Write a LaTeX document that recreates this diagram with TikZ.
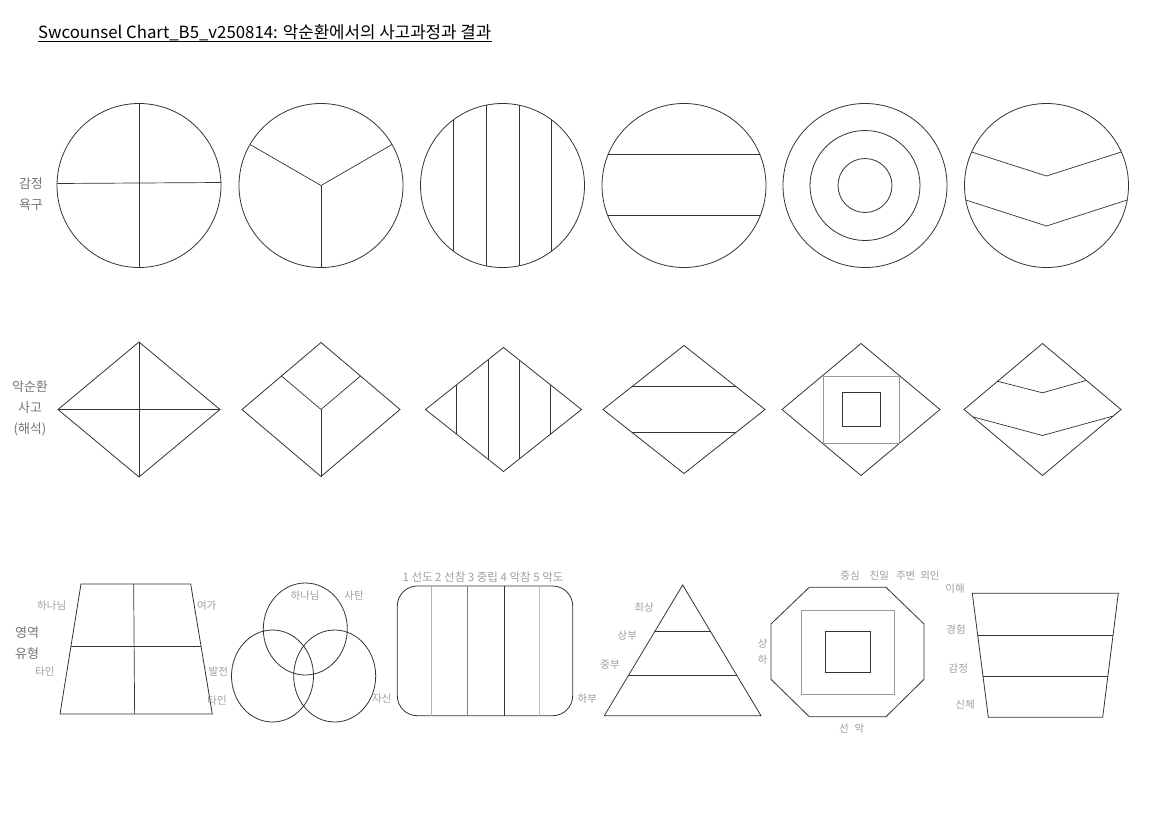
\documentclass[tikz,border=0pt]{standalone}
\usepackage{fontspec}
\setmainfont{Noto Sans CJK KR}
\usetikzlibrary{positioning, calc}
\tikzset{
  outline/.style={draw=black!80, line width=0.8pt},
  divider/.style={draw=black!80, line width=0.7pt},
  softline/.style={draw=black!40, line width=0.8pt},
  sidelabel/.style={font=\fontsize{13}{21}\selectfont, text=black!55, align=center, inner sep=0pt},
  taglabel/.style={font=\fontsize{10.5}{12}\selectfont, text=black!38, inner sep=0pt},
  titlelabel/.style={font=\fontsize{16.8}{18}\selectfont, inner sep=0pt}
}

\begin{document}
\begin{tikzpicture}[x=1pt, y=-1pt]
    \useasboundingbox (0,0) rectangle (1152,814);
    \node[titlelabel, anchor=base west] (title) at (38,38) {Swcounsel Chart\_B5\_v250814: 악순환에서의 사고과정과 결과};
    \draw[line width=0.7pt] ($(title.base west)+(0,3)$) -- ($(title.base east)+(0,3)$);

    \node[sidelabel] (emo) at (31,194) {감정\\욕구};
    \node[sidelabel] (think) at (30,408) {악순환\\사고\\(해석)};
    \node[sidelabel] (area) at (27,643) {영역\\유형};

    \foreach \n/\x in {1/139,2/321,3/502.5,4/684,5/865,6/1046.5} {
      \coordinate (c\n) at (\x,185.5);
      \draw[outline] (c\n) circle (82pt);
    }
    \draw[divider] ($(c1)+(0,-82)$) -- ($(c1)+(0,82)$);
    \draw[divider] ($(c1)+(-82,-2)$) -- ($(c1)+(82,-3)$);
    \draw[divider] ($(c2)+(-71,-41)$) -- (c2) -- ($(c2)+(71,-41)$);
    \draw[divider] (c2) -- ($(c2)+(0,82)$);
    \foreach \dx/\dy in {-49.2/65.6,-16.4/80.3,16.4/80.3,49.2/65.6}
      \draw[divider] ($(c3)+(\dx,-\dy)$) -- ($(c3)+(\dx,\dy)$);
    \draw[divider] ($(c4)+(-75.9,-31)$) -- ($(c4)+(75.9,-31)$);
    \draw[divider] ($(c4)+(-76.3,30)$) -- ($(c4)+(76.3,30)$);
    \draw[outline] (c5) circle (55pt) (c5) circle (27pt);
    \draw[divider] ($(c6)+(-74.8,-33.5)$) -- ($(c6)+(0,-9.5)$) -- ($(c6)+(74.8,-33.5)$);
    \draw[divider] ($(c6)+(-80.7,14.5)$) -- ($(c6)+(0,40.5)$) -- ($(c6)+(80.7,14.5)$);

    \foreach \n/\x/\hw/\hh in {1/139/81/67.5,2/321/79/67,3/503.5/78/62,4/684/81/64,5/861/79/66,6/1042.5/78.5/66} {
      \coordinate (d\n) at (\x,409.5);
      \draw[outline] ($(d\n)+(0,-\hh)$) -- ($(d\n)+(\hw,0)$) -- ($(d\n)+(0,\hh)$) -- ($(d\n)+(-\hw,0)$) -- cycle;
    }
    \draw[divider] ($(d1)+(0,-67.5)$) -- ($(d1)+(0,67.5)$);
    \draw[divider] ($(d1)+(-81,0)$) -- ($(d1)+(81,0)$);
    \draw[divider] ($(d2)+(-39.5,-33.5)$) -- (d2) -- ($(d2)+(39.5,-33.5)$);
    \draw[divider] (d2) -- ($(d2)+(0,67)$);
    \foreach \dx/\dy in {-46.8/24.8,-15.6/49.6,15.6/49.6,46.8/24.8}
      \draw[divider] ($(d3)+(\dx,-\dy)$) -- ($(d3)+(\dx,\dy)$);
    \draw[divider] ($(d4)+(-52,-23)$) -- ($(d4)+(52,-23)$);
    \draw[divider] ($(d4)+(-52,23)$) -- ($(d4)+(52,23)$);
    \draw[softline] ($(d5)+(-38,-33.5)$) rectangle ($(d5)+(38,33.5)$);
    \draw[outline] ($(d5)+(-19,-17.5)$) rectangle ($(d5)+(19,16.5)$);
    \draw[divider] ($(d6)+(-45.2,-28.3)$) -- ($(d6)+(0,-16.7)$) -- ($(d6)+(43.5,-29)$);
    \draw[divider] ($(d6)+(-69.8,7.3)$) -- ($(d6)+(0,26)$) -- ($(d6)+(70.8,6.5)$);

    \coordinate (ta) at (81,584);
    \coordinate (tb) at (190.7,584);
    \coordinate (tc) at (212.3,714);
    \coordinate (td) at (60,714);
    \draw[outline] (ta) -- (tb) -- (tc) -- (td) -- cycle;
    \draw[divider] ($(ta)!0.48!(tb)$) -- ($(td)!0.49!(tc)$);
    \draw[divider] ($(ta)!0.48!(td)$) -- ($(tb)!0.48!(tc)$);
    \node[taglabel] (godA) at (51.7,606) {하나님};
    \node[taglabel] (leisure) at (206.7,606) {여가};
    \node[taglabel] (otherA) at (45,671.7) {타인};
    \node[taglabel] (growth) at (218.3,672) {발전};
    \node[taglabel] (otherB) at (217,701) {타인};

    \coordinate (va) at (305.3,629);
    \coordinate (vb) at (272.5,676);
    \coordinate (vc) at (334.7,676);
    \draw[outline] (va) ellipse [x radius=42pt, y radius=46pt];
    \draw[outline] (vb) ellipse [x radius=41pt, y radius=46pt];
    \draw[outline] (vc) ellipse [x radius=41pt, y radius=46pt];
    \node[taglabel] (godB) at (305,596) {하나님};
    \node[taglabel] (satan) at (354,596) {사탄};
    \node[taglabel] (self) at (381.7,698.3) {자신};

    \coordinate (ra) at (397.3,586);
    \coordinate (rb) at (572.7,715.7);
    \draw[outline, rounded corners=20pt] (ra) rectangle (rb);
    \foreach \x/\c in {431.7/30,467.3/50,504/80,539/25}
      \draw[draw=black!\c, line width=0.8pt] (\x,586) -- (\x,715.7);
    \node[taglabel, font=\fontsize{11.5}{12}\selectfont] (scale) at (483,576.7) {1 선도 2 선참 3 중립 4 악참 5 악도};

    \coordinate (pa) at (682.7,585);
    \coordinate (pb) at (604.3,715.7);
    \coordinate (pc) at (761,715.7);
    \draw[outline] (pa) -- (pc) -- (pb) -- cycle;
    \draw[divider] ($(pa)!0.352!(pb)$) -- ($(pa)!0.352!(pc)$);
    \draw[divider] ($(pa)!0.694!(pb)$) -- ($(pa)!0.694!(pc)$);
    \node[taglabel] (top) at (644,607.7) {최상};
    \node[taglabel] (upper) at (627.3,636) {상부};
    \node[taglabel] (middle) at (610,665) {중부};
    \node[taglabel] (lower) at (587.3,698.3) {하부};

    \draw[outline] (809.3,587.3) -- (886,587.3) -- (924,624) -- (924,679.3) -- (886,716.7)
      -- (809.3,716.7) -- (771,679.3) -- (771,624) -- cycle;
    \draw[softline] (801,610) rectangle (894,694);
    \draw[outline] (825,631.7) rectangle (870,672.3);
    \node[taglabel] (rings) at (890,576) {중심\hspace{10pt}친밀\hspace{7pt}주변\hspace{5pt}외인};
    \node[taglabel] (high) at (762.7,643.3) {상};
    \node[taglabel] (low) at (762.7,659.3) {하};
    \node[taglabel] (moral) at (851.7,728.3) {선\hspace{6pt}악};

    \coordinate (qa) at (972.3,593.3);
    \coordinate (qb) at (1118.3,593.3);
    \coordinate (qc) at (1102.7,717.3);
    \coordinate (qd) at (988.3,717.3);
    \draw[outline] (qa) -- (qb) -- (qc) -- (qd) -- cycle;
    \draw[divider] ($(qa)!0.336!(qd)$) -- ($(qb)!0.336!(qc)$);
    \draw[divider] ($(qa)!0.673!(qd)$) -- ($(qb)!0.673!(qc)$);
    \node[taglabel] (grasp) at (955,588.3) {이해};
    \node[taglabel] (exper) at (956,629.3) {경험};
    \node[taglabel] (feel) at (958.3,668.3) {감정};
    \node[taglabel] (body) at (965,705) {신체};
\end{tikzpicture}
\end{document}
